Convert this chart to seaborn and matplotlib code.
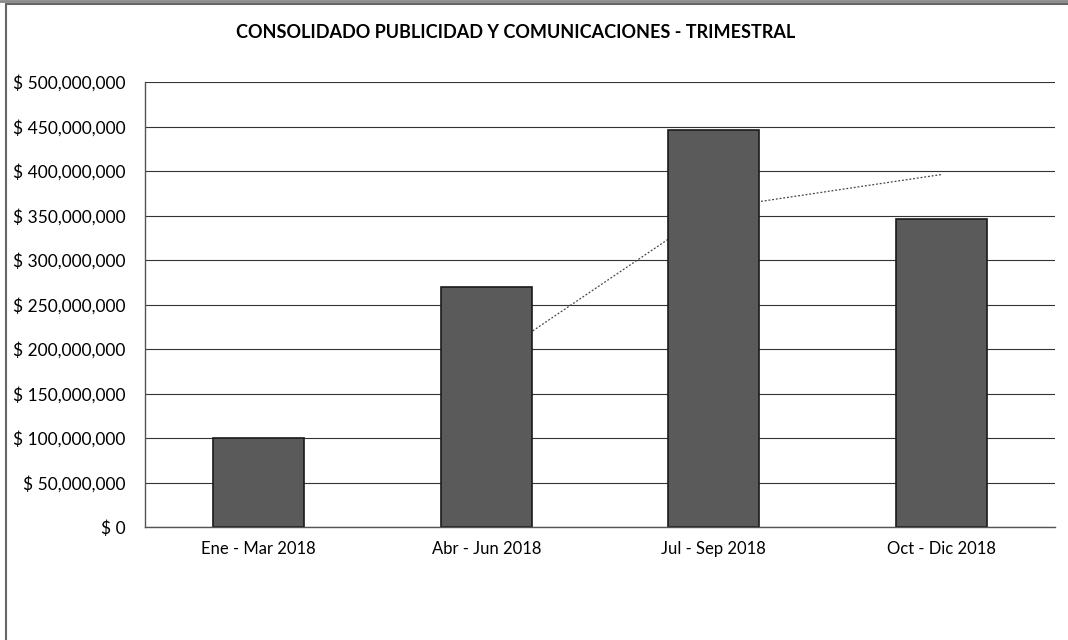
import matplotlib
matplotlib.use("Agg")
import numpy as np
import pandas as pd
import matplotlib.pyplot as plt
import seaborn as sns
from matplotlib.ticker import FuncFormatter, MultipleLocator
from matplotlib.lines import Line2D

# data
trimestres = ["Ene - Mar 2018", "Abr - Jun 2018", "Jul - Sep 2018", "Oct - Dic 2018"]
valores = [100_000_000, 270_000_000, 446_000_000, 346_000_000]
titulo = "CONSOLIDADO PUBLICIDAD Y COMUNICACIONES - TRIMESTRAL"

df = pd.DataFrame({"trimestre": trimestres, "valor": valores})
# Excel style 2-period moving average trendline
df["media_movil"] = df["valor"].rolling(2).mean()

sns.set_style("white")
plt.rcParams["font.family"] = ["Lato", "DejaVu Sans"]

fig = plt.figure(figsize=(10.68, 6.4), dpi=100)
ax = fig.add_axes([145 / 1068, 113 / 640, 910 / 1068, 445 / 640])

sns.barplot(data=df, x="trimestre", y="valor", color="#5a5a5a",
            edgecolor="#1a1a1a", linewidth=1.2, width=0.4, saturation=1, ax=ax)

ax.plot(np.arange(len(df)), df["media_movil"], linestyle=(0, (1.5, 1.5)),
        color="#444444", linewidth=0.9, zorder=0.8)

ax.set_ylim(0, 500_000_000)
ax.set_xlim(-0.5, len(df) - 0.5)
ax.yaxis.set_major_locator(MultipleLocator(50_000_000))
ax.yaxis.set_major_formatter(FuncFormatter(lambda v, p: f"$ {v:,.0f}"))
ax.set_axisbelow(True)
ax.grid(axis="y", color="#333333", linewidth=0.8)
ax.set_xlabel("")
ax.set_ylabel("")
ax.tick_params(axis="y", labelsize=12.5, length=0, pad=14, colors="black")
ax.tick_params(axis="x", labelsize=12, length=0, pad=10, colors="black")

for side in ["top", "right"]:
    ax.spines[side].set_visible(False)
for side in ["left", "bottom"]:
    ax.spines[side].set_color("#555555")
    ax.spines[side].set_linewidth(1.0)

fig.text(516 / 1068, 1 - 33 / 640, titulo, ha="center", va="center",
         fontsize=13, fontweight="bold", color="black")

# chart frame (runs past the right and bottom edges of the scan)
fig.add_artist(Line2D([6 / 1068, 6 / 1068], [0, 1 - 4 / 640],
                      transform=fig.transFigure, color="#666666", linewidth=1.5))
fig.add_artist(Line2D([6 / 1068, 1], [1 - 4 / 640, 1 - 4 / 640],
                      transform=fig.transFigure, color="#666666", linewidth=1.5))
fig.add_artist(Line2D([0, 1], [1 - 1 / 640, 1 - 1 / 640],
                      transform=fig.transFigure, color="#888888", linewidth=2))

fig.savefig("out.png", dpi=100)
